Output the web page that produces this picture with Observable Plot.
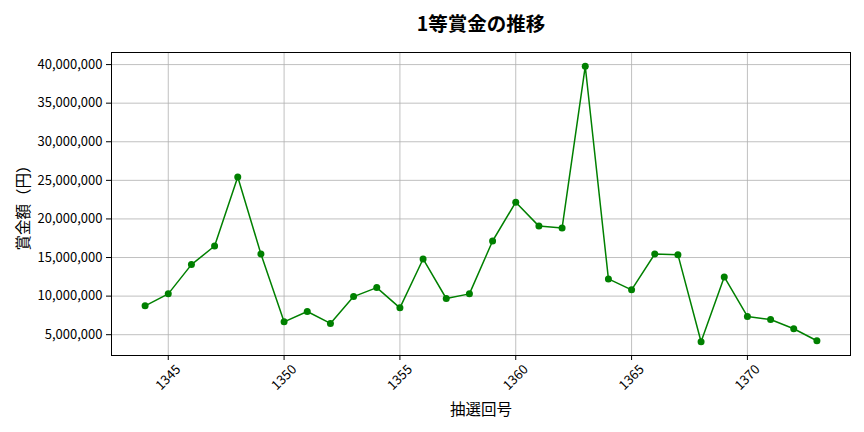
<!DOCTYPE html>
<html>
<head>
<meta charset="utf-8">
<script src="https://cdn.jsdelivr.net/npm/d3@7"></script>
<script src="https://cdn.jsdelivr.net/npm/@observablehq/plot@0.6"></script>
<style>
  html, body { margin: 0; padding: 0; background: #fff; }
  body { font-family: "Noto Sans CJK JP", "Noto Sans", sans-serif; }
  svg { font-family: "Noto Sans CJK JP", "Noto Sans", sans-serif; }
  g[aria-label="x-axis label"] text, g[aria-label="y-axis label"] text { font-size: 15.5px; }
</style>
</head>
<body>
<div id="chart"></div>
<script>
const title = "1等賞金の推移";
const xLabel = "抽選回号";
const yLabel = "賞金額（円）";
const draws = [1344,1345,1346,1347,1348,1349,1350,1351,1352,1353,1354,1355,1356,1357,1358,1359,1360,1361,1362,1363,1364,1365,1366,1367,1368,1369,1370,1371,1372,1373];
const prizes = [8740000,10290000,14080000,16490000,25440000,15460000,6670000,8010000,6460000,9940000,11100000,8480000,14810000,9690000,10290000,17140000,22170000,19070000,18820000,39780000,12230000,10810000,15460000,15370000,4090000,12490000,7360000,6970000,5770000,4220000];
const xTicks = [1345,1350,1355,1360,1365,1370];
const yTicks = [5000000,10000000,15000000,20000000,25000000,30000000,35000000,40000000];

const data = draws.map((d, i) => ({draw: d, prize: prizes[i]}));
const color = "#008000";

const chart = Plot.plot({
  width: 864,
  height: 432,
  marginLeft: 111,
  marginRight: 14,
  marginTop: 52,
  marginBottom: 77,
  style: {fontSize: "13px", fontFamily: "'Noto Sans CJK JP', 'Noto Sans', sans-serif", color: "#000", background: "#fff"},
  x: {domain: [1342.55, 1374.45], label: xLabel},
  y: {domain: [2305000, 41565000], label: yLabel},
  marks: [
    Plot.gridX(xTicks, {stroke: "#b0b0b0", strokeOpacity: 1, strokeWidth: 0.8}),
    Plot.gridY(yTicks, {stroke: "#b0b0b0", strokeOpacity: 1, strokeWidth: 0.8}),
    Plot.axisX({ticks: xTicks, tickSize: 5, tickFormat: () => "", label: xLabel, labelAnchor: "center", labelArrow: "none", labelOffset: 59}),
    Plot.text(xTicks, {x: d => d, frameAnchor: "bottom", dy: 22, rotate: -45, textAnchor: "middle", lineAnchor: "middle", text: d => String(d), fill: "#000"}),
    Plot.axisY({ticks: yTicks, tickSize: 5, tickFormat: d3.format(","), label: yLabel, labelAnchor: "center", labelArrow: "none", labelOffset: 94}),
    Plot.line(data, {x: "draw", y: "prize", stroke: color, strokeWidth: 1.5}),
    Plot.dot(data, {x: "draw", y: "prize", fill: color, r: 3.5}),
    Plot.frame({stroke: "#000", strokeWidth: 1}),
    Plot.text([title], {frameAnchor: "top", dy: -28, lineAnchor: "middle", fontSize: 19.5, fontWeight: "bold", fill: "#000"})
  ]
});
document.getElementById("chart").appendChild(chart);
</script>
</body>
</html>
